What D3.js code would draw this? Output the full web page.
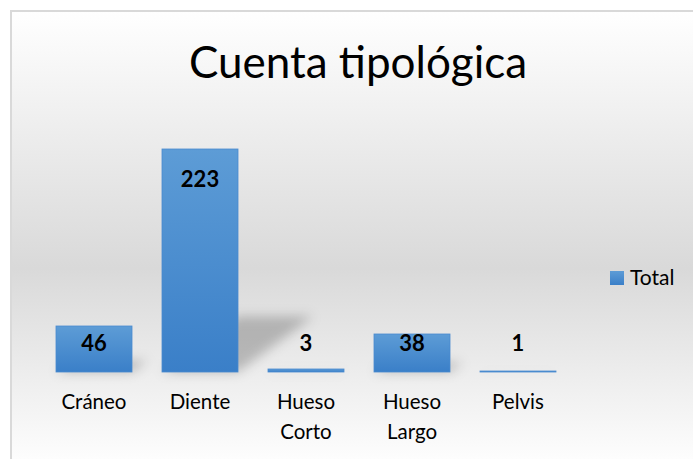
<!DOCTYPE html>
<html>
<head>
<meta charset="utf-8">
<script src="https://cdn.jsdelivr.net/npm/d3@7"></script>
<style>
  html, body { margin: 0; padding: 0; background: #ffffff; }
  svg { display: block; font-family: Lato, "Open Sans", sans-serif; }
</style>
</head>
<body>
<svg id="chart" width="693" height="459"></svg>
<script>
const title = "Cuenta tipológica";
const categories = ["Cráneo", "Diente", "Hueso Corto", "Hueso Largo", "Pelvis"];
const categoryLines = [["Cráneo"], ["Diente"], ["Hueso", "Corto"], ["Hueso", "Largo"], ["Pelvis"]];
const seriesName = "Total";
const values = [46, 223, 3, 38, 1];

const W = 693, H = 459;
const svg = d3.select("#chart");
const defs = svg.append("defs");

// background gradient
const bg = defs.append("linearGradient").attr("id", "bg")
  .attr("gradientUnits", "userSpaceOnUse").attr("x1", 0).attr("x2", 0).attr("y1", 11).attr("y2", 470);
bg.append("stop").attr("offset", 0).attr("stop-color", "#ffffff");
bg.append("stop").attr("offset", 0.56).attr("stop-color", "#d9d9d9");
bg.append("stop").attr("offset", 1).attr("stop-color", "#ffffff");

const barGrad = defs.append("linearGradient").attr("id", "barGrad")
  .attr("x1", 0).attr("x2", 0).attr("y1", 0).attr("y2", 1);
barGrad.append("stop").attr("offset", 0).attr("stop-color", "#5d9cd6");
barGrad.append("stop").attr("offset", 1).attr("stop-color", "#3a7fc8");

const blur = defs.append("filter").attr("id", "blur")
  .attr("x", "-30%").attr("y", "-30%").attr("width", "160%").attr("height", "160%");
blur.append("feGaussianBlur").attr("stdDeviation", 6);

svg.append("rect").attr("x", 11).attr("y", 11).attr("width", W + 20).attr("height", H + 20)
  .attr("fill", "url(#bg)").attr("stroke", "#d9d9d9").attr("stroke-width", 2);

svg.append("text").attr("x", 358).attr("y", 78).attr("text-anchor", "middle")
  .attr("font-size", 44).attr("fill", "#000").text(title);

const x = d3.scaleBand().domain(categories).range([41, 571]).paddingInner(0.283).paddingOuter(0.1415);
const y = d3.scaleLinear().domain([0, 250]).range([372, 122]);

// perspective shadows
const shadowG = svg.append("g").attr("filter", "url(#blur)");
shadowG.selectAll("path").data(categories).join("path")
  .attr("d", (c, i) => {
    const x0 = x(c), x1 = x(c) + x.bandwidth();
    const h = (y(0) - y(values[i])) * 0.25;
    const dx = h * 1.35;
    return `M${x0},${y(0)}L${x1},${y(0)}L${x1 + dx},${y(0) - h}L${x0 + dx},${y(0) - h}Z`;
  })
  .attr("fill", "#000").attr("opacity", 0.22);

svg.append("g").selectAll("rect").data(categories).join("rect")
  .attr("x", c => x(c))
  .attr("y", (c, i) => y(values[i]))
  .attr("width", x.bandwidth())
  .attr("height", (c, i) => y(0) - y(values[i]))
  .attr("fill", "url(#barGrad)")
  .attr("stroke", "#4a8bcf").attr("stroke-width", 0.8);

// data labels
svg.append("g").selectAll("text").data(categories).join("text")
  .attr("x", c => x(c) + x.bandwidth() / 2)
  .attr("y", (c, i) => Math.min(y(values[i]) + 38, y(0) - 21))
  .attr("text-anchor", "middle").attr("font-size", 22).attr("font-weight", "bold")
  .attr("fill", "#000")
  .text((c, i) => values[i]);

// category labels
const catG = svg.append("g").selectAll("text").data(categories).join("text")
  .attr("x", c => x(c) + x.bandwidth() / 2)
  .attr("y", 409)
  .attr("text-anchor", "middle").attr("font-size", 20.5).attr("fill", "#000");
catG.each(function(c, i) {
  const t = d3.select(this);
  categoryLines[i].forEach((line, k) => {
    t.append("tspan").attr("x", x(c) + x.bandwidth() / 2).attr("dy", k === 0 ? 0 : 30).text(line);
  });
});

// legend
const lg = svg.append("g").attr("transform", "translate(610,271)");
lg.append("rect").attr("width", 14).attr("height", 14).attr("fill", "url(#barGrad)");
lg.append("text").attr("x", 20).attr("y", 14).attr("font-size", 21).attr("fill", "#000").text(seriesName);
</script>
</body>
</html>
